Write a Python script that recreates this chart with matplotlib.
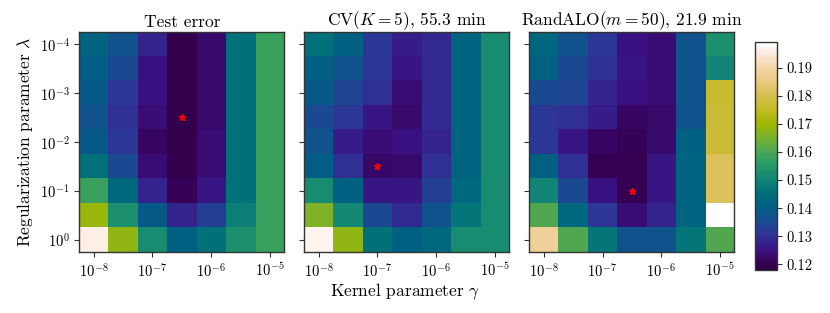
import numpy as np
import matplotlib
matplotlib.use("Agg")
import matplotlib.pyplot as plt
from matplotlib.colors import LinearSegmentedColormap

plt.rcParams['font.family'] = 'serif'
plt.rcParams['font.serif'] = ['cmr10']
plt.rcParams['mathtext.fontset'] = 'cm'
plt.rcParams['axes.unicode_minus'] = False
plt.rcParams['axes.formatter.use_mathtext'] = True

gamma_labels = [r'$10^{-8}$', r'$10^{-7}$', r'$10^{-6}$', r'$10^{-5}$']
lambda_labels = [r'$10^{-4}$', r'$10^{-3}$', r'$10^{-2}$', r'$10^{-1}$', r'$10^{0}$']
titles = ['Test error', r'CV($K=5$), 55.3 min', r'RandALO($m=50$), 21.9 min']

# rows: lambda 1e-4 (top) .. 1e0 (bottom), half-decade steps
# cols: gamma 1e-8 .. 1e-5, half-decade steps
test_error = [
    [0.142, 0.137, 0.128, 0.120, 0.123, 0.146, 0.158],
    [0.140, 0.135, 0.125, 0.120, 0.123, 0.146, 0.158],
    [0.139, 0.131, 0.125, 0.120, 0.123, 0.146, 0.158],
    [0.137, 0.130, 0.124, 0.1195, 0.123, 0.146, 0.158],
    [0.139, 0.131, 0.122, 0.120, 0.124, 0.146, 0.158],
    [0.146, 0.135, 0.124, 0.120, 0.124, 0.146, 0.158],
    [0.158, 0.143, 0.128, 0.121, 0.126, 0.146, 0.158],
    [0.169, 0.153, 0.139, 0.128, 0.133, 0.149, 0.158],
    [0.196, 0.168, 0.152, 0.141, 0.146, 0.153, 0.158],
]
cv_error = [
    [0.146, 0.141, 0.131, 0.127, 0.129, 0.142, 0.152],
    [0.141, 0.137, 0.131, 0.126, 0.129, 0.142, 0.152],
    [0.139, 0.134, 0.130, 0.124, 0.129, 0.142, 0.152],
    [0.135, 0.131, 0.126, 0.123, 0.129, 0.142, 0.152],
    [0.137, 0.127, 0.124, 0.125, 0.128, 0.142, 0.152],
    [0.140, 0.130, 0.1225, 0.123, 0.130, 0.142, 0.152],
    [0.152, 0.141, 0.126, 0.126, 0.133, 0.143, 0.152],
    [0.166, 0.151, 0.135, 0.129, 0.137, 0.147, 0.152],
    [0.197, 0.168, 0.146, 0.141, 0.143, 0.152, 0.152],
]
randalo_error = [
    [0.143, 0.137, 0.131, 0.125, 0.124, 0.137, 0.153],
    [0.141, 0.135, 0.130, 0.126, 0.124, 0.137, 0.150],
    [0.135, 0.134, 0.128, 0.125, 0.124, 0.137, 0.176],
    [0.131, 0.130, 0.127, 0.122, 0.123, 0.137, 0.177],
    [0.131, 0.126, 0.122, 0.121, 0.123, 0.141, 0.177],
    [0.141, 0.130, 0.1205, 0.1205, 0.126, 0.142, 0.181],
    [0.150, 0.135, 0.125, 0.1205, 0.126, 0.142, 0.181],
    [0.161, 0.143, 0.131, 0.124, 0.128, 0.142, 0.199],
    [0.188, 0.161, 0.147, 0.137, 0.137, 0.147, 0.161],
]
# selected (row, col) marked with a star
best_row = [3, 5, 6]
best_col = [3, 2, 3]

vmin, vmax = 0.118, 0.199

cmap = LinearSegmentedColormap.from_list('custom', [
    (0.000, '#2e0042'),
    (0.025, '#35004f'),
    (0.085, '#3a1080'),
    (0.150, '#303296'),
    (0.210, '#1a4a92'),
    (0.275, '#005f84'),
    (0.340, '#00707a'),
    (0.400, '#138675'),
    (0.460, '#259a68'),
    (0.520, '#4aa657'),
    (0.580, '#78b230'),
    (0.645, '#a2b800'),
    (0.710, '#c4bc28'),
    (0.770, '#d9bf55'),
    (0.830, '#e9c880'),
    (0.890, '#f5d6a8'),
    (0.950, '#fde9da'),
    (1.000, '#ffffff'),
])

fig = plt.figure(figsize=(8.3, 3.13), dpi=100)
lefts = [0.0955, 0.3666, 0.6377]
axes = []
datasets = [test_error, cv_error, randalo_error]
im = None
for i, (left, data) in enumerate(zip(lefts, datasets)):
    ax = fig.add_axes([left, 0.195, 0.247, 0.704])
    arr = np.array(data)
    im = ax.imshow(arr, cmap=cmap, vmin=vmin, vmax=vmax, aspect='auto',
                   interpolation='nearest')
    ax.plot(best_col[i], best_row[i], marker='*', color='red', markersize=5,
            linestyle='none')
    ax.set_xticks([0, 2, 4, 6])
    ax.set_xticklabels(gamma_labels)
    ax.set_yticks([0, 2, 4, 6, 8])
    if i == 0:
        ax.set_yticklabels(lambda_labels)
    else:
        ax.set_yticklabels([])
        ax.tick_params(axis='y', length=0)
    ax.tick_params(labelsize=10.5, direction='out', length=3.5, width=0.8,
                   colors='#333333', labelcolor='black')
    ax.set_title(titles[i], fontsize=12.5, pad=3)
    for s in ax.spines.values():
        s.set_linewidth(1.0)
        s.set_color('#333333')
    axes.append(ax)

axes[0].set_ylabel(r'Regularization parameter $\lambda$', fontsize=12.5,
                   labelpad=3)
fig.text(0.488, 0.035, r'Kernel parameter $\gamma$', fontsize=12.5,
         ha='center', va='bottom')

cax = fig.add_axes([0.9096, 0.137, 0.0261, 0.728])
cb = fig.colorbar(im, cax=cax)
cb.set_ticks([0.12, 0.13, 0.14, 0.15, 0.16, 0.17, 0.18, 0.19])
cb.set_ticklabels(['0.12', '0.13', '0.14', '0.15', '0.16', '0.17', '0.18', '0.19'])
cax.tick_params(labelsize=10.5, direction='out', length=3.5, width=0.8,
                colors='#333333', labelcolor='black')
cb.outline.set_linewidth(1.0)
cb.outline.set_edgecolor('#333333')

fig.savefig('out.png', dpi=100)
